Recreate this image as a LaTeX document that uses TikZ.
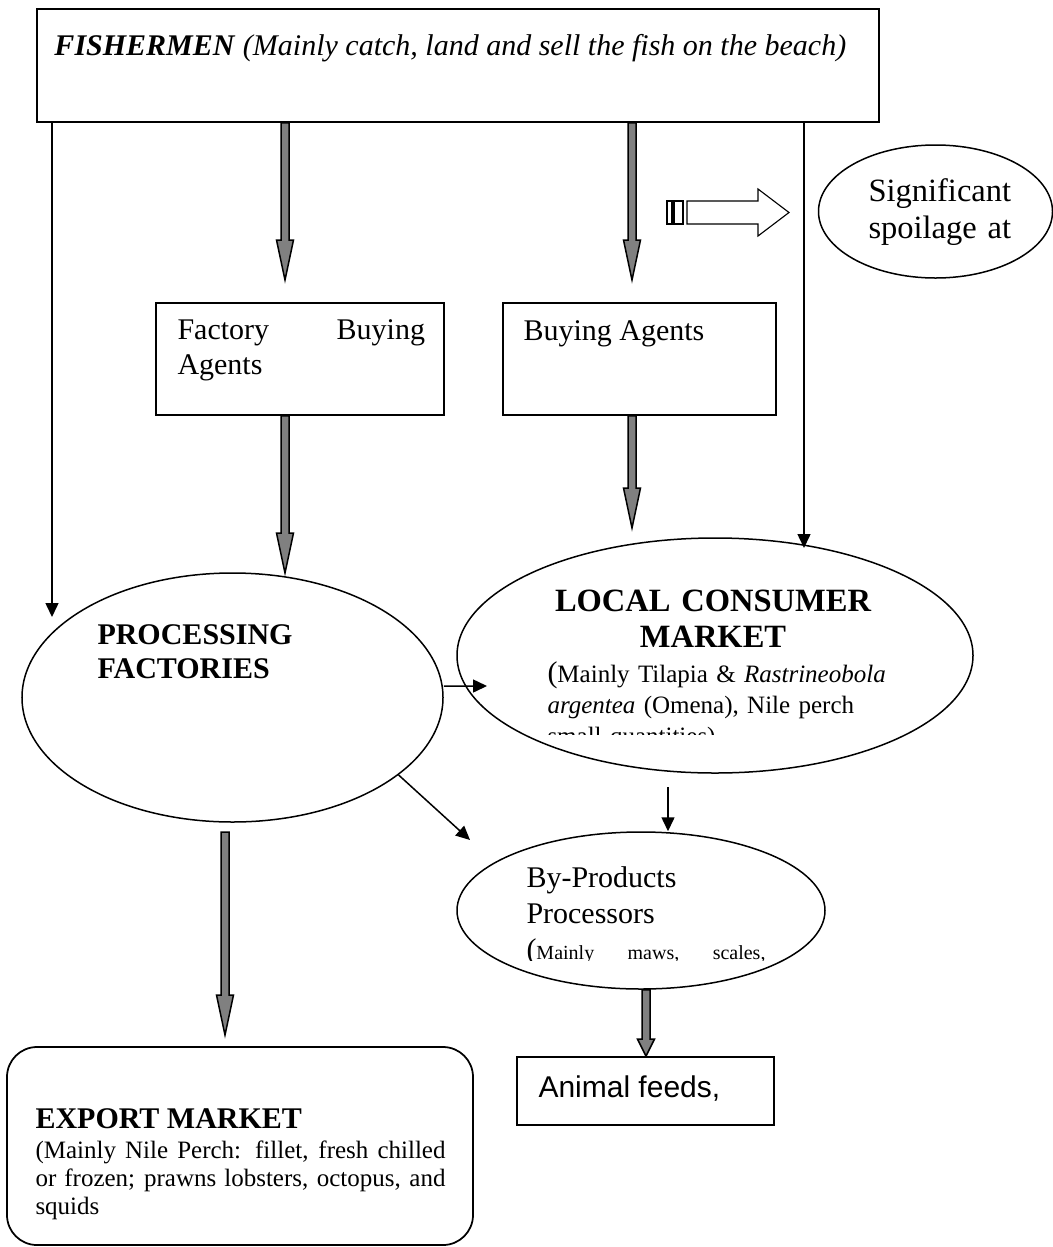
\documentclass[tikz,border=0pt]{standalone}
\usepackage{fontspec}
\setmainfont{Liberation Serif}
\newfontfamily\arialfont{Liberation Sans}
\usetikzlibrary{shapes.geometric,arrows.meta,calc}

% thick grey arrow: start, tip, head length
\newcommand{\grayarrow}[3]{%
  \filldraw[fatarrow] let \p1=(#1), \p2=(#2) in
    (\x1-1.6pt,\y1) -- (\x1-1.6pt,\y2+#3) -- (\x1-3.4pt,\y2+#3) -- (\x2,\y2)
    -- (\x1+3.4pt,\y2+#3) -- (\x1+1.6pt,\y2+#3) -- (\x1+1.6pt,\y1) -- cycle;}

\begin{document}
\begin{tikzpicture}[x=0.4pt, y=-0.4pt,
    every node/.style={font=\fontsize{12}{14}\selectfont},
    box/.style={draw, line width=0.7pt, rectangle, inner sep=0pt},
    oval/.style={draw, line width=0.6pt, ellipse, inner sep=0pt},
    txt/.style={anchor=base west, inner sep=0pt, align=left},
    thinarrow/.style={line width=0.6pt, -{Triangle[length=5.6pt,width=5.2pt]}},
    fatarrow/.style={fill=gray, draw=black, line width=0.6pt, line join=miter},
    hollow/.style={draw, fill=white, line width=0.45pt}]
    \useasboundingbox (0,0) rectangle (1053,1247);

    % Fishermen
        \node[box, minimum width=336.8pt, minimum height=45.2pt] (fish) at (458,65.5) {};
        \node[txt] (fish-txt) at (54,55) {\textbf{\textit{FISHERMEN}} \textit{(Mainly catch, land and sell the fish on the beach)}};

    % Buying agents
        \node[box, minimum width=115.2pt, minimum height=44.8pt] (fba) at (300,359) {};
        \node[txt, text width=99pt, align=justify] (fba-txt) at (177,339) {Factory Buying\linebreak Agents};
        \node[box, minimum width=109.2pt, minimum height=44.8pt] (ba) at (639.5,359) {};
        \node[txt] (ba-txt) at (523,340) {Buying Agents};

    % Spoilage
        \node[oval, minimum width=93.6pt, minimum height=53.2pt] (spoil) at (935.5,211.5) {};
        \node[txt, text width=60pt, font=\fontsize{13}{15}\selectfont] (spoil-txt) at (868,201) {Significant\\spoilage at};
        \coordinate (sa) at (789,212.5);
        \draw[hollow] ($(sa)+(-122,-11.5)$) rectangle ($(sa)+(-117,11.5)$);
        \draw[hollow] ($(sa)+(-115,-11.5)$) rectangle ($(sa)+(-106,11.5)$);
        \draw[hollow] ($(sa)+(-102,-11.5)$) -- ($(sa)+(-31,-11.5)$) -- ($(sa)+(-31,-23.5)$) -- (sa)
            -- ($(sa)+(-31,23.5)$) -- ($(sa)+(-31,11.5)$) -- ($(sa)+(-102,11.5)$) -- cycle;

    % Processing factories
        \node[oval, minimum width=168.4pt, minimum height=99.6pt] (proc) at (232.5,697.5) {};
        \node[txt, text width=90pt, font=\fontsize{12}{13.6}\selectfont\bfseries] (proc-txt) at (97,644) {PROCESSING\\FACTORIES};

    % Local consumer market
        \node[oval, minimum width=206.4pt, minimum height=94pt] (local) at (715,655.5) {};
        \node[txt, anchor=base, text width=140pt, align=center, font=\fontsize{13}{14.4}\selectfont\bfseries] (local-head) at (713,611) {LOCAL CONSUMER\\MARKET};
        \begin{scope}
            \clip (540,652) rectangle (900,734);
            \node[txt, text width=140pt, font=\fontsize{10}{12.4}\selectfont] (local-body) at (547,682)
                {{\fontsize{12}{12.4}\selectfont(}Mainly Tilapia \& \textit{Rastrineobola}\\\textit{argentea} (Omena), Nile perch\\small quantities)};
        \end{scope}

    % By-products
        \node[oval, minimum width=147.2pt, minimum height=62.8pt] (byp) at (641,910.5) {};
        \begin{scope}
            \clip (500,860) rectangle (800,960);
            \node[txt, text width=95.6pt, font=\fontsize{12}{14.4}\selectfont] (byp-txt) at (526,887)
                {By-Products\\Processors\\\hbox to 95.6pt{{\fontsize{12}{13.6}\selectfont(}\fontsize{8}{9.6}\selectfont Mainly\hfill maws,\hfill scales,}};
        \end{scope}

    % Animal feeds
        \node[box, minimum width=102.8pt, minimum height=27.2pt] (feeds) at (645.5,1091) {};
        \node[txt, font=\arialfont\fontsize{12}{14}\selectfont] (feeds-txt) at (538,1097) {Animal feeds,};

    % Export market
        \node[box, rounded corners=12pt, minimum width=186.4pt, minimum height=79.2pt] (export) at (240,1146) {};
        \node[txt, text width=164pt, align=justify, font=\fontsize{10}{11.2}\selectfont] (export-txt) at (35,1128)
            {{\fontsize{12}{12}\selectfont\bfseries EXPORT MARKET}\\[0.8pt](Mainly Nile Perch: fillet, fresh chilled\linebreak or frozen; prawns lobsters, octopus, and\linebreak squids};

    % Arrows
        \coordinate (tipL) at (52,617);
        \coordinate (tipR) at (804,548);
        \coordinate (g1) at (285,280);
        \coordinate (g2) at (632,280);
        \coordinate (g3) at (285,573);
        \coordinate (g4) at (632,528);
        \coordinate (pl) at (487,686);
        \coordinate (pb) at (470,840);
        \coordinate (lb) at (668,787);
        \coordinate (g5s) at (225,832);
        \coordinate (g5) at (225,1035);
        \coordinate (fc) at (646,1000);

        \draw[thinarrow] (fish.south -| tipL) -- (tipL);
        \draw[thinarrow] (fish.south -| tipR) -- (tipR);
        \grayarrow{fish.south -| g1}{g1}{16pt}
        \grayarrow{fish.south -| g2}{g2}{16pt}
        \grayarrow{fba.south -| g1}{g3}{16pt}
        \grayarrow{ba.south -| g2}{g4}{16pt}
        \draw[thinarrow] ([yshift=4.6pt]proc.east) -- (pl);
        \draw[thinarrow] (proc.-25) -- (pb);
        \draw[thinarrow] (lb) -- (lb |- byp.north);
        \grayarrow{g5s}{g5}{16pt}
        \grayarrow{byp.south -| fc}{feeds.north -| fc}{6.8pt}
\end{tikzpicture}
\end{document}
